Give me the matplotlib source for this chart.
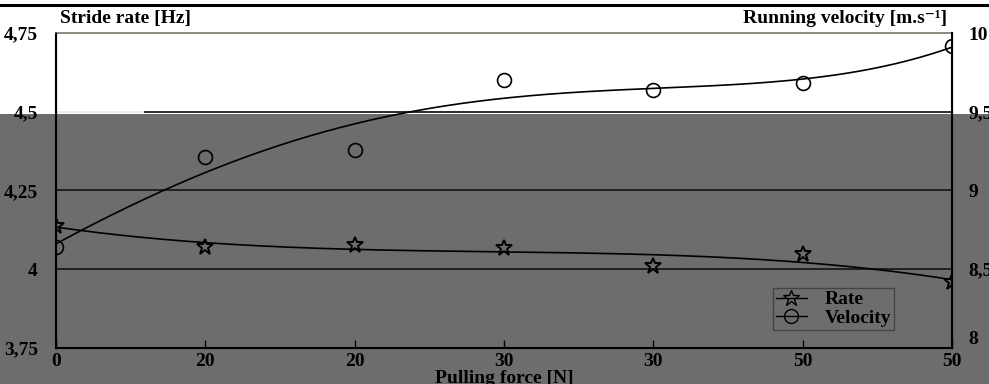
import numpy as np
import matplotlib
matplotlib.use("Agg")
import matplotlib.pyplot as plt
import matplotlib.transforms as mtrans
from matplotlib.patches import Rectangle
from matplotlib.lines import Line2D

# data
force_labels = ["0", "20", "20", "30", "30", "50", "50"]
rate = [4.137, 4.071, 4.077, 4.067, 4.010, 4.048, 3.960]          # Hz
velocity = [8.64, 9.21, 9.26, 9.70, 9.64, 9.68, 9.92]             # m/s

plt.rcParams['font.family'] = ['Liberation Serif', 'DejaVu Serif']
plt.rcParams['font.weight'] = 'bold'

fig = plt.figure(figsize=(9.89, 3.84), dpi=100)
ax = fig.add_axes([0.0566, 0.094, 0.906, 0.820])
ax.set_facecolor('none')

# gray block over the lower part of the picture
fig.patches.append(Rectangle((0, 0), 1, 0.703, transform=fig.transFigure,
                             facecolor='#6d6d6d', edgecolor='none', zorder=-5))
# black rule at the very top
fig.add_artist(Line2D([0, 1], [0.987, 0.987], color='black', lw=2.2))

x = np.arange(len(rate))
xs = np.linspace(0, len(rate) - 1, 300)

# smoothed trend lines
rate_fit = np.polyval(np.polyfit(x, rate, 3), xs)
vel_fit = np.polyval(np.polyfit(x, velocity, 4), xs)

for yv in [4.0, 4.25, 4.5]:
    ax.axhline(yv, color='#1a1a1a', lw=1.3, zorder=1)
ax.plot([0, 0.58], [4.5, 4.5], color='#f2f2f2', lw=1.4, zorder=1.5)

ax.plot(xs, rate_fit, color='black', lw=1.2, zorder=3)
ax.plot(x, rate, ls='none', marker='*', ms=12, mfc='none', mec='black', mew=1.4, zorder=4)

ax.set_xlim(0, len(rate) - 1)
ax.set_ylim(3.75, 4.75)
ax.set_yticks([3.75, 4, 4.25, 4.5, 4.75])
ax.set_yticklabels(["3,75", "4", "4,25", "4,5", "4,75"])
ax.set_xticks(x)
ax.set_xticklabels(force_labels)
ax.tick_params(axis='x', direction='in', length=6, width=1, pad=4, labelsize=14)
ax.tick_params(axis='y', length=0, pad=13, labelsize=14)
ax.set_xlabel("Pulling force [N]", fontsize=14, fontweight='bold', labelpad=0)

for s in ['left', 'bottom']:
    ax.spines[s].set_linewidth(1.5)
    ax.spines[s].set_color('black')
ax.spines['top'].set_color('#7a7a6a')
ax.spines['top'].set_linewidth(1.2)

ax2 = ax.twinx()
ax2.plot(xs, vel_fit, color='black', lw=1.2, zorder=3)
ax2.plot(x, velocity, ls='none', marker='o', ms=10, mfc='none', mec='black', mew=1.2, zorder=4)
ax2.set_ylim(8, 10)
ax2.set_yticks([8, 8.5, 9, 9.5, 10])
ax2.set_yticklabels(["8", "8,5", "9", "9,5", "10"])
ax2.tick_params(axis='y', length=0, pad=12, labelsize=14)
ax2.spines['right'].set_linewidth(1.5)
ax2.spines['right'].set_color('black')
ax2.spines['top'].set_visible(False)
# the bottom right label "8" sits a bit higher in the original
lab8 = ax2.get_yticklabels()[0]
lab8.set_transform(lab8.get_transform() + mtrans.ScaledTranslation(0, 10 / 100, fig.dpi_scale_trans))

h1 = Line2D([], [], color='black', lw=1, marker='*', ms=12, mfc='none', mec='black')
h2 = Line2D([], [], color='black', lw=1, marker='o', ms=10, mfc='none', mec='black')
leg = ax2.legend([h1, h2], ["Rate", "Velocity"], loc='lower right',
                 bbox_to_anchor=(0.946, 0.026), fontsize=14, frameon=True,
                 fancybox=False, handlelength=1.6, handletextpad=0.9,
                 borderpad=0.15, labelspacing=0.05)
leg.get_frame().set_facecolor('none')
leg.get_frame().set_edgecolor('#3a3a3a')

fig.text(0.061, 0.953, "Stride rate [Hz]", fontsize=14, fontweight='bold', ha='left', va='center')
fig.text(0.958, 0.953, "Running velocity [m.s\u207b\u00b9]", fontsize=14,
         fontweight='bold', ha='right', va='center')

fig.savefig("out.png", dpi=100)
